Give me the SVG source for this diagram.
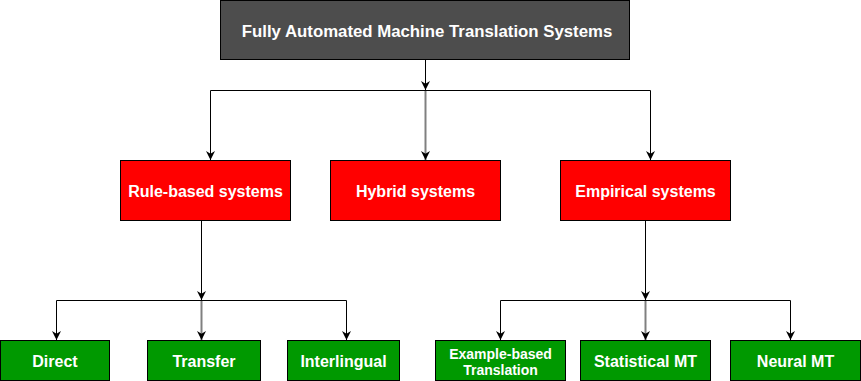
<svg xmlns="http://www.w3.org/2000/svg" width="861" height="381" viewBox="0 0 861 381">
<style>
.box{stroke:#000;stroke-width:1}
.top{fill:#4D4D4D}
.red{fill:#FF0000}
.grn{fill:#009900}
.t{font-family:"Liberation Sans",Arial,Helvetica,sans-serif;font-weight:bold;font-size:16px;fill:#fff;text-anchor:middle;dominant-baseline:central}
.tt{font-size:16.8px}
.sm{font-size:14px}
.c{fill:none;stroke:#000;stroke-width:1}
.g{stroke:#808080;stroke-width:2}
</style>
<defs>
<marker id="ah" viewBox="0 0 10 10" refX="10" refY="5" markerWidth="9" markerHeight="9" markerUnits="userSpaceOnUse" orient="auto">
<path d="M0,0 L10,5 L0,10 L3,5 Z" fill="#000"/>
</marker>
</defs>
<g id="connectors">
<path class="c" d="M425.5,60 V90" marker-end="url(#ah)"/>
<path class="c" d="M210.5,160 V90.5 H650.5 V160" />
<path class="c" d="M210.5,151 V160" marker-end="url(#ah)"/>
<path class="c" d="M650.5,151 V160" marker-end="url(#ah)"/>
<path class="c g" d="M425.5,91 V160" marker-end="url(#ah)"/>
<path class="c" d="M201.5,220 V300" marker-end="url(#ah)"/>
<path class="c" d="M56.5,340 V300.5 H346.5 V340"/>
<path class="c" d="M56.5,331 V340" marker-end="url(#ah)"/>
<path class="c" d="M346.5,331 V340" marker-end="url(#ah)"/>
<path class="c g" d="M201.5,301 V340" marker-end="url(#ah)"/>
<path class="c" d="M645.5,220 V300" marker-end="url(#ah)"/>
<path class="c" d="M500.5,340 V300.5 H790.5 V340"/>
<path class="c" d="M500.5,331 V340" marker-end="url(#ah)"/>
<path class="c" d="M790.5,331 V340" marker-end="url(#ah)"/>
<path class="c g" d="M645.5,301 V340" marker-end="url(#ah)"/>
</g>
<g id="n-top">
<rect class="box top" x="220.5" y="0.5" width="409" height="59"/>
<text class="t tt" x="427" y="31">Fully Automated Machine Translation Systems</text>
</g>
<g id="n-rule">
<rect class="box red" x="120.5" y="160.5" width="170" height="60"/>
<text class="t" x="205.5" y="191.5">Rule-based systems</text>
</g>
<g id="n-hybrid">
<rect class="box red" x="330.5" y="160.5" width="170" height="60"/>
<text class="t" x="415.5" y="191.5">Hybrid systems</text>
</g>
<g id="n-empirical">
<rect class="box red" x="560.5" y="160.5" width="170" height="60"/>
<text class="t" x="645.5" y="191.5">Empirical systems</text>
</g>
<g id="n-direct">
<rect class="box grn" x="0.5" y="340.5" width="109" height="40"/>
<text class="t" x="55" y="361.5">Direct</text>
</g>
<g id="n-transfer">
<rect class="box grn" x="147.5" y="340.5" width="113" height="40"/>
<text class="t" x="204" y="361.5">Transfer</text>
</g>
<g id="n-interlingual">
<rect class="box grn" x="287.5" y="340.5" width="112" height="40"/>
<text class="t" x="343.5" y="361.5">Interlingual</text>
</g>
<g id="n-example">
<rect class="box grn" x="435.5" y="340.5" width="130" height="40"/>
<text class="t sm" x="500.5" y="353.5">Example-based</text>
<text class="t sm" x="500.5" y="369.5">Translation</text>
</g>
<g id="n-statistical">
<rect class="box grn" x="580.5" y="340.5" width="130" height="40"/>
<text class="t" x="645.5" y="361.5">Statistical MT</text>
</g>
<g id="n-neural">
<rect class="box grn" x="730.5" y="340.5" width="130" height="40"/>
<text class="t" x="795.5" y="361.5">Neural MT</text>
</g>
</svg>
